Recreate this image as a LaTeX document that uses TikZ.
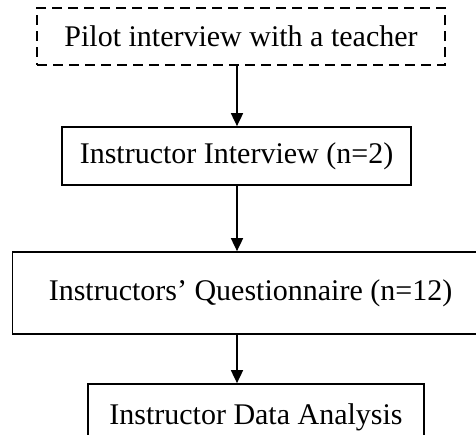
\documentclass[tikz,border=0pt]{standalone}
\usepackage{fontspec}
\setmainfont{Liberation Serif}
\usetikzlibrary{arrows.meta}

\begin{document}
\begin{tikzpicture}[
		x=1pt,y=-1pt,
		stepbox/.style={draw,line width=1.7pt,inner sep=0pt,font=\fontsize{30}{34}\selectfont,minimum width=#1},
		pilotbox/.style={stepbox=#1,dash pattern=on 10pt off 6pt},
		flow/.style={-{Triangle[width=12pt,length=13pt]},line width=1.7pt},
]

\def\arrowx{237}

\clip (0,0) rectangle (476,434);

\node [pilotbox=408pt,minimum height=57pt] (pilot) at (241,36.5) {Pilot interview with a teacher};
\node [stepbox=349pt,minimum height=58pt] (interview) at (236.5,156) {Instructor Interview (n=2)};
\node [stepbox=476pt,minimum height=82pt] (questionnaire) at (250.5,293) {Instructors' Questionnaire (n=12)};
\node [stepbox=336pt,minimum height=66pt] (analysis) at (256,417) {Instructor Data Analysis};

% arrows straight down at the same x
\draw [flow] (pilot.south -| \arrowx,0) -- (interview.north -| \arrowx,0);
\draw [flow] (interview.south -| \arrowx,0) -- (questionnaire.north -| \arrowx,0);
\draw [flow] (questionnaire.south -| \arrowx,0) -- (analysis.north -| \arrowx,0);

\end{tikzpicture}
\end{document}
